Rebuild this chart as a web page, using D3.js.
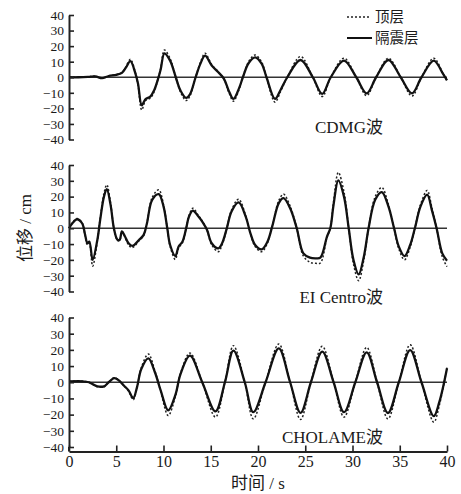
<!DOCTYPE html>
<html>
<head>
<meta charset="utf-8">
<script src="https://cdn.jsdelivr.net/npm/d3@7/dist/d3.min.js"></script>
<style>
  html, body { margin: 0; padding: 0; background: #fff; }
  svg { display: block; }
  text { font-family: "Liberation Serif", "Noto Sans CJK SC", serif; fill: #1a1a1a; }
</style>
</head>
<body>
<svg id="chart" width="461" height="494"></svg>
<script>
// Displacement time histories (cm) of the top floor (顶层) and isolation layer (隔震层)
// under three ground motions.

// ---- CDMG ----
const cdmgTime = [0, 1.0, 2.0, 2.8, 3.5, 4.2, 5.0, 5.6, 6.0, 6.5, 7.0, 7.3, 7.7, 8.1, 8.6, 9.0, 9.4, 9.7,
  10.1, 10.7, 11.3, 11.8, 12.4, 12.8, 13.4, 13.9, 14.4, 15.1, 15.8, 16.4, 16.9, 17.4, 18.0, 18.4, 19.0, 19.7,
  20.4, 20.9, 21.8, 22.4, 23.1, 24.5, 25.8, 26.8, 27.7, 29.1, 30.4, 31.5, 32.5, 33.8, 35.1, 36.3, 37.3, 38.6,
  39.6, 40];
const cdmgIso = [0, 0, 0.2, 0.5, -0.6, 0.8, 1.5, 2.8, 6, 10.3, 3, -4, -18, -14, -12.5, -8.5, -1.5, 5,
  15.4, 10.7, 0, -8.6, -13.3, -11, 0, 8.6, 13.9, 7.5, 3.2, -1, -8.6, -13.9, -7, 0, 9, 12.8,
  8.6, 0, -13.9, -8, 0, 11.1, 0, -10.7, 0, 10.7, 0, -10.3, 0, 11.1, 0, -10.3, 0, 10.7,
  2, -2];
const cdmgTop = [0, 0, 0.2, 0.6, -0.7, 0.9, 1.7, 3.0, 6.5, 11.5, 3.5, -4.5, -21, -15, -13.5, -9.5, -1.5, 5.5,
  17.5, 12, 0, -9.5, -15, -12, 0, 9.5, 15.4, 8.2, 3.5, -1.2, -9.5, -15.4, -7.8, 0, 10, 14.3,
  9.5, 0, -16, -9, 0, 13.3, 0, -12.4, 0, 12.2, 0, -11.8, 0, 12.2, 0, -12, 0, 12.2,
  2.2, -2.2];

// ---- El Centro ----
const elcTime = [0, 0.4, 0.85, 1.4, 1.7, 1.95, 2.15, 2.5, 3.0, 3.3, 3.7, 4.0, 4.4, 4.75, 5.1, 5.35, 5.6, 5.9,
  6.3, 6.7, 7.4, 7.9, 8.25, 8.8, 9.5, 10.0, 10.4, 10.7, 11.25, 11.6, 12.0, 12.4, 12.7, 13.1, 13.7, 14.1,
  14.6, 15.1, 15.8, 16.2, 16.7, 17.2, 17.95, 18.7, 19.2, 19.7, 20.4, 21.0, 21.5, 22.2, 22.7, 23.4, 24.1,
  24.8, 25.5, 26.1, 26.6, 27.3, 27.65, 28.0, 28.5, 29.1, 29.6, 30.1, 30.65, 31.2, 31.7, 32.4, 33.1, 33.8,
  34.4, 34.9, 35.5, 36.1, 36.6, 37.2, 37.9, 38.4, 38.9, 39.5, 40];
const elcIso = [0, 3.5, 5.7, 3, -4, -9.5, -8.5, -20, -7.4, 5.3, 20, 24.8, 14.8, 0, -7, -7.4, -2, -4.9,
  -9.5, -11.2, -7.4, -4.2, 3.2, 18, 21.6, 13.8, 0, -10.6, -17.6, -11.5, -8.5, 0, 7.4, 11.2, 7.4, 4.2,
  -1, -9.5, -12.7, -9.5, 0, 10.6, 16.3, 7.4, -3.2, -10.6, -13.3, -8.5, 1, 15.9, 19, 12.7, 0,
  -15.9, -18.6, -19, -18.6, -5.3, 0, 15, 30.3, 20, 0, -20, -29.2, -18, 0, 18, 22.9, 13.8,
  0, -11.6, -17.6, -10.6, 0, 13.8, 21.2, 11.5, 0, -15.9, -20.5];
const elcTop = [0, 3.8, 6.2, 3.3, -4.5, -10.5, -9.5, -24, -8, 6, 22, 27.5, 16, 0, -7.5, -8, -2.2, -5.3,
  -10.5, -12.3, -8, -4.6, 3.5, 19.5, 24.3, 15, 0, -11.5, -19.7, -12.5, -9.3, 0, 8, 12.7, 8, 4.6,
  -1.1, -10.5, -14.8, -10.5, 0, 11.5, 18.4, 8, -3.5, -11.6, -14.8, -9.3, 1.1, 17.5, 21.6, 14, 0,
  -17.5, -21.5, -22.2, -22, -5.8, 0, 17, 35.3, 23, 0, -22.5, -33.2, -20, 0, 20, 25.8, 15,
  0, -13, -20, -12, 0, 15, 23.9, 13, 0, -18, -24.3];

// ---- CHOLAME ----
const choTime = [0, 1.4, 2.1, 3.0, 3.7, 4.2, 4.8, 5.3, 5.8, 6.3, 6.8, 7.2, 7.65, 8.4, 9.1, 9.7, 10.5, 11.25,
  11.8, 12.8, 14.1, 15.5, 16.5, 17.4, 18.6, 19.5, 20.8, 22.2, 23.4, 24.5, 25.6, 26.8, 28.0, 29.1, 30.3,
  31.5, 32.6, 33.75, 34.9, 36.1, 37.3, 38.6, 39.2, 40];
const choIso = [0.5, 0.6, 0, -2.5, -2.5, 0, 2.5, 1, -2, -5, -9.8, -3, 8.2, 14.8, 6, -5, -17.4, -8,
  5, 16.4, 0, -18, 0, 19.5, 0, -18.5, 0, 20.9, 0, -18.9, 0, 18.9, 0, -18.5, 0,
  18.5, 0, -19, 0, 19.9, 0, -20.9, -12, 8.6];
const choTop = [0.5, 0.6, 0, -2.8, -2.8, 0, 2.8, 1.1, -2.2, -5.5, -10.8, -3.3, 9, 17.4, 6.8, -5.5, -20.5, -9,
  5.5, 18, 0, -21.5, 0, 22.6, 0, -22.6, 0, 23.6, 0, -23, 0, 22.2, 0, -21.5, 0,
  21.5, 0, -22.6, 0, 23.2, 0, -24.6, -14, 9.2];

const yTicks = [-40, -30, -20, -10, 0, 10, 20, 30, 40];
const xTicks = [0, 5, 10, 15, 20, 25, 30, 35, 40];
const panelNames = ["CDMG波", "EI Centro波", "CHOLAME波"];
const seriesNames = ["顶层", "隔震层"];
const xTitle = "时间 / s";
const yTitle = "位移 / cm";

const panels = [
  { name: panelNames[0], time: cdmgTime, iso: cdmgIso, top: cdmgTop, top40: 15, bot40: 139.5, labelY: 127 },
  { name: panelNames[1], time: elcTime, iso: elcIso, top: elcTop, top40: 165, bot40: 291.5, labelY: 297 },
  { name: panelNames[2], time: choTime, iso: choIso, top: choTop, top40: 317.5, bot40: 447, labelY: 437 }
];

const svg = d3.select("#chart");
const x0 = 69, x1 = 447;
const x = d3.scaleLinear().domain([0, 40]).range([x0, x1]);
const fmt = d3.format("");
const bottomAxisY = 451.5;

panels.forEach((p, i) => {
  const y = d3.scaleLinear().domain([-40, 40]).range([p.bot40, p.top40]);
  const g = svg.append("g");

  // zero reference line
  g.append("line")
    .attr("x1", x0).attr("x2", x1)
    .attr("y1", y(0)).attr("y2", y(0))
    .attr("stroke", "#333").attr("stroke-width", 1.5);

  const line = d3.line()
    .x((d) => x(d[0]))
    .y((d) => y(d[1]))
    .curve(d3.curveCatmullRom.alpha(0.5));

  // top floor (dotted)
  g.append("path")
    .datum(p.time.map((t, k) => [t, p.top[k]]))
    .attr("d", line)
    .attr("fill", "none")
    .attr("stroke", "#222")
    .attr("stroke-width", 1.5)
    .attr("stroke-dasharray", "2,2");

  // isolation layer (solid)
  g.append("path")
    .datum(p.time.map((t, k) => [t, p.iso[k]]))
    .attr("d", line)
    .attr("fill", "none")
    .attr("stroke", "#111")
    .attr("stroke-width", 2.3)
    .attr("stroke-linejoin", "round");

  // left axis with inward ticks
  const ax = g.append("g")
    .attr("transform", `translate(${x0},0)`)
    .call(d3.axisLeft(y).tickValues(yTicks).tickFormat(fmt)
      .tickSizeInner(-5).tickSizeOuter(0).tickPadding(5));
  ax.select(".domain").attr("stroke", "#222").attr("stroke-width", 2);
  ax.selectAll(".tick line").attr("stroke", "#222").attr("stroke-width", 1.6);
  ax.selectAll(".tick text")
    .style("font-family", "'Liberation Serif', serif")
    .style("font-size", "13.5px")
    .attr("fill", "#1a1a1a");

  if (i === 2) {
    g.append("line")
      .attr("x1", x0).attr("x2", x0)
      .attr("y1", y(-40)).attr("y2", bottomAxisY)
      .attr("stroke", "#222").attr("stroke-width", 2);
  }

  // ground motion name
  g.append("text")
    .attr("x", 383).attr("y", p.labelY)
    .attr("text-anchor", "end")
    .attr("dominant-baseline", "central")
    .style("font-size", "17px")
    .text(p.name);
});

// bottom time axis
const bx = svg.append("g")
  .attr("transform", `translate(0,${bottomAxisY})`)
  .call(d3.axisBottom(x).tickValues(xTicks).tickFormat(fmt)
    .tickSizeInner(-6).tickSizeOuter(0).tickPadding(4));
bx.select(".domain").attr("stroke", "#222").attr("stroke-width", 2);
bx.selectAll(".tick line").attr("stroke", "#222").attr("stroke-width", 1.6);
bx.selectAll(".tick text")
  .style("font-family", "'Liberation Serif', serif")
  .style("font-size", "16px")
  .attr("fill", "#1a1a1a");

// axis titles
svg.append("text")
  .attr("x", 258).attr("y", 483)
  .attr("text-anchor", "middle")
  .attr("dominant-baseline", "central")
  .style("font-size", "17px")
  .text(xTitle);

svg.append("text")
  .attr("transform", "translate(25,228) rotate(-90)")
  .attr("text-anchor", "middle")
  .attr("dominant-baseline", "central")
  .style("font-size", "17px")
  .text(yTitle);

// legend
const legend = svg.append("g");
legend.append("line")
  .attr("x1", 347).attr("x2", 371).attr("y1", 17).attr("y2", 17)
  .attr("stroke", "#222").attr("stroke-width", 1.6).attr("stroke-dasharray", "2,2");
legend.append("line")
  .attr("x1", 347).attr("x2", 372).attr("y1", 38).attr("y2", 38)
  .attr("stroke", "#111").attr("stroke-width", 2);
legend.append("text").attr("x", 375).attr("y", 17)
  .attr("dominant-baseline", "central").style("font-size", "14.5px").text(seriesNames[0]);
legend.append("text").attr("x", 375).attr("y", 38)
  .attr("dominant-baseline", "central").style("font-size", "14.5px").text(seriesNames[1]);
</script>
</body>
</html>
